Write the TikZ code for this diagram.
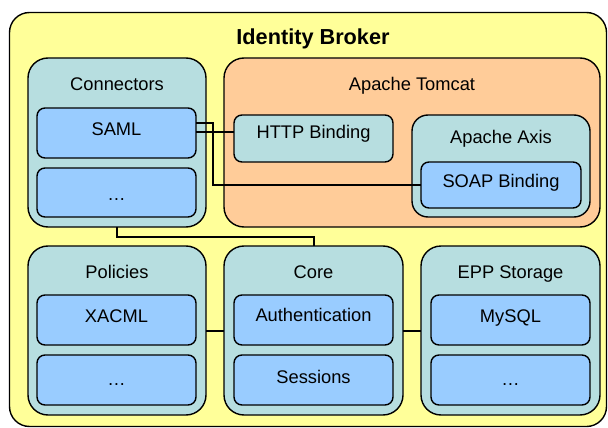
\documentclass[tikz,border=0pt]{standalone}
\usepackage{fontspec}
\setmainfont{Liberation Sans}
\definecolor{ybg}{RGB}{255,255,153}
\definecolor{teal}{RGB}{183,222,224}
\definecolor{blu}{RGB}{153,204,255}
\definecolor{ora}{RGB}{255,204,153}
\begin{document}
\begin{tikzpicture}[x=1pt,y=-1pt,
  bx/.style={draw=black, line width=1.4pt, anchor=north west, inner sep=0pt, outer sep=0pt},
  grp/.style={bx, fill=teal, rounded corners=20pt},
  inn/.style={bx, fill=blu, rounded corners=8pt},
  lbl/.style={font=\fontsize{18.3}{20}\selectfont, inner sep=0pt, anchor=base},
  wire/.style={draw=black, line width=2pt}]
\useasboundingbox (0,0) rectangle (608,428);
\node[bx, fill=ybg, rounded corners=20pt, minimum width=597pt, minimum height=414pt] (outer) at (9.5,12.5) {};
\node[font=\fontsize{21.7}{24}\selectfont\bfseries, inner sep=0pt, anchor=base] (title) at (313,45) {Identity Broker};
% top row
\node[grp, minimum width=178pt, minimum height=169pt] (conn) at (28,58) {};
\node[lbl] (connl) at (117,91) {Connectors};
\node[inn, minimum width=159pt, minimum height=50pt] (saml) at (37,108) {};
\node[lbl] (samll) at (116.5,135) {SAML};
\node[inn, minimum width=159pt, minimum height=49pt] (cdots) at (37,168) {};
\node[lbl] (cdotsl) at (116.5,200) {…};
\node[bx, fill=ora, rounded corners=20pt, minimum width=376pt, minimum height=169pt] (tomcat) at (224,58) {};
\node[lbl] (tomcatl) at (412,91) {Apache Tomcat};
\node[bx, fill=teal, rounded corners=8pt, minimum width=159pt, minimum height=47pt] (http) at (234,115) {};
\node[lbl] (httpl) at (313.5,139) {HTTP Binding};
\node[grp, rounded corners=16pt, minimum width=178pt, minimum height=102pt] (axis) at (412,115) {};
\node[lbl] (axisl) at (501,143) {Apache Axis};
\node[inn, minimum width=160pt, minimum height=46pt] (soap) at (421,162) {};
\node[lbl] (soapl) at (501,187) {SOAP Binding};
% bottom row
\node[grp, minimum width=178pt, minimum height=169pt] (pol) at (28,246) {};
\node[lbl] (poll) at (117,278) {Policies};
\node[inn, minimum width=159pt, minimum height=50pt] (xacml) at (37,295) {};
\node[lbl] (xacmll) at (116.5,322) {XACML};
\node[inn, minimum width=159pt, minimum height=50pt] (pdots) at (37,355) {};
\node[lbl] (pdotsl) at (116.5,385) {…};
\node[grp, minimum width=179pt, minimum height=169pt] (core) at (224,246) {};
\node[lbl] (corel) at (313.5,278) {Core};
\node[inn, minimum width=159pt, minimum height=50pt] (auth) at (234,295) {};
\node[lbl] (authl) at (313.5,321) {Authentication};
\node[inn, minimum width=159pt, minimum height=50pt] (sess) at (234,355) {};
\node[lbl] (sessl) at (313.5,383) {Sessions};
\node[grp, minimum width=179pt, minimum height=169pt] (epp) at (421,246) {};
\node[lbl] (eppl) at (510.5,278) {EPP Storage};
\node[inn, minimum width=159pt, minimum height=50pt] (mysql) at (431,295) {};
\node[lbl] (mysqll) at (510.5,322) {MySQL};
\node[inn, minimum width=159pt, minimum height=50pt] (edots) at (431,355) {};
\node[lbl] (edotsl) at (510.5,385) {…};
% wires
\draw[wire] ([yshift=1pt]saml.east) -- ([yshift=1pt]saml.east -| http.west);
\draw[wire] ([yshift=10pt]saml.east) -- ++(17,0) |- (soap.west);
\draw[wire] (conn.south) -- ++(0,10) -| (core.north);
\draw[wire] (pol.east) -- (core.west);
\draw[wire] (core.east) -- (epp.west);
\end{tikzpicture}
\end{document}
